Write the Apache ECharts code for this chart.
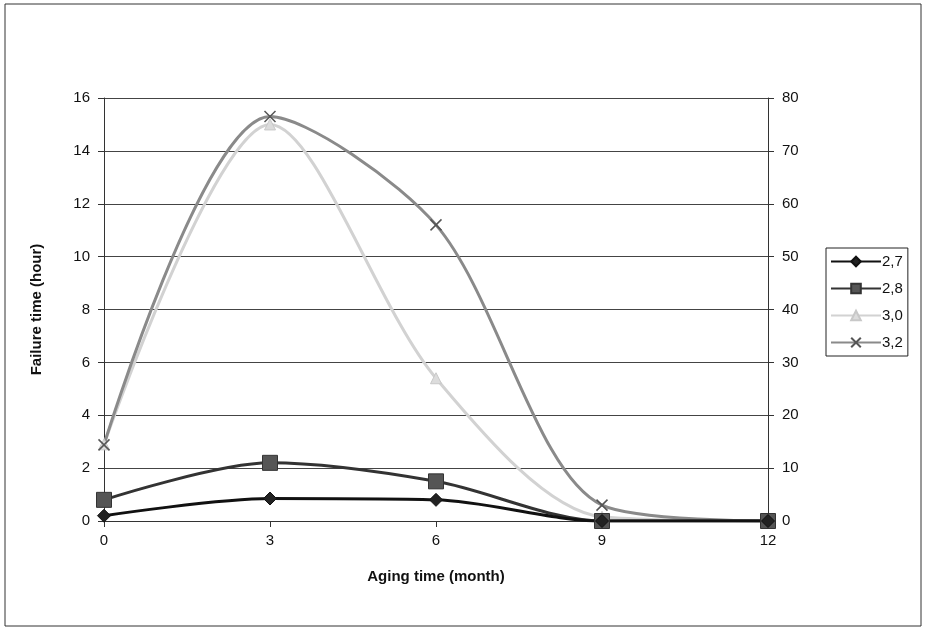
<!DOCTYPE html>
<html><head><meta charset="utf-8">
<script src="https://cdn.jsdelivr.net/npm/echarts@6/dist/echarts.min.js"></script>
<style>html,body{margin:0;padding:0;background:#fff}#c{width:925px;height:629px}</style>
</head><body><div id="c"></div>
<script>
const months = [0, 3, 6, 9, 12];
const s27 = [0.2, 0.85, 0.8, 0, 0];        // left axis (hour)
const s28 = [0.8, 2.2, 1.5, 0, 0];         // left axis (hour)
const s30 = [14.5, 75, 27, 0.8, 0];        // right axis
const s32 = [14.4, 76.5, 56, 3, 0];        // right axis
const leftTicks = [0, 16, 2];
const rightTicks = [0, 80, 10];

const pair = (xs, ys) => xs.map((x, i) => [x, ys[i]]);
const font = 'Liberation Sans, Arial, sans-serif';
const X = 'path://M0,0 L10,10 M10,0 L0,10';

const chart = echarts.init(document.getElementById('c'));
chart.setOption({
  animation: false,
  backgroundColor: '#fff',
  grid: { left: 104, right: 157, top: 98, bottom: 108 },
  graphic: [{ type: 'rect', shape: { x: 5, y: 4, width: 916, height: 622 },
    style: { fill: 'none', stroke: '#333', lineWidth: 1 }, silent: true }],
  legend: {
    orient: 'vertical', left: 826, top: 248,
    itemWidth: 50, itemHeight: 12, itemGap: 12,
    padding: [6, 5, 6, 4],
    borderColor: '#222', borderWidth: 1,
    textStyle: { fontFamily: font, fontSize: 15, color: '#111', padding: [0, 0, 0, -4] },
    data: ['2,7', '2,8', '3,0', '3,2']
  },
  xAxis: {
    type: 'value', min: 0, max: 12, interval: 3,
    name: 'Aging time (month)', nameLocation: 'middle', nameGap: 48,
    nameTextStyle: { fontFamily: font, fontSize: 15, fontWeight: 'bold', color: '#111' },
    axisLine: { lineStyle: { color: '#333', width: 1 } },
    axisTick: { show: true, length: 6, lineStyle: { color: '#333' } },
    axisLabel: { fontFamily: font, fontSize: 15, color: '#111', margin: 12 },
    splitLine: { show: false }
  },
  yAxis: [{
    type: 'value', min: leftTicks[0], max: leftTicks[1], interval: leftTicks[2],
    name: 'Failure time (hour)', nameLocation: 'middle', nameGap: 60, nameRotate: 90,
    nameTextStyle: { fontFamily: font, fontSize: 15, fontWeight: 'bold', color: '#111' },
    axisLine: { show: true, lineStyle: { color: '#333' } },
    axisTick: { show: true, length: 6, lineStyle: { color: '#333' } },
    axisLabel: { fontFamily: font, fontSize: 15, color: '#111', margin: 14 },
    splitLine: { show: true, lineStyle: { color: '#444', width: 1 } }
  }, {
    type: 'value', min: rightTicks[0], max: rightTicks[1], interval: rightTicks[2],
    position: 'right',
    axisLine: { show: true, lineStyle: { color: '#333' } },
    axisTick: { show: true, length: 6, lineStyle: { color: '#333' } },
    axisLabel: { fontFamily: font, fontSize: 15, color: '#111', margin: 14 },
    splitLine: { show: false }
  }],
  series: [
    { name: '3,0', type: 'line', yAxisIndex: 1, smooth: 0.3, data: pair(months, s30),
      symbol: 'triangle', symbolSize: 11,
      lineStyle: { color: '#d2d2d2', width: 3 },
      itemStyle: { color: '#dcdcdc', borderColor: '#c8c8c8', borderWidth: 1 } },
    { name: '3,2', type: 'line', yAxisIndex: 1, smooth: 0.3, data: pair(months, s32),
      symbol: X, symbolSize: 11,
      lineStyle: { color: '#8a8a8a', width: 3 },
      itemStyle: { color: 'transparent', borderColor: '#555', borderWidth: 1.5 } },
    { name: '2,8', type: 'line', yAxisIndex: 0, smooth: 0.3, data: pair(months, s28),
      symbol: 'rect', symbolSize: 15,
      lineStyle: { color: '#333', width: 3 },
      itemStyle: { color: '#555', borderColor: '#333', borderWidth: 1 } },
    { name: '2,7', type: 'line', yAxisIndex: 0, smooth: 0.3, data: pair(months, s27),
      symbol: 'diamond', symbolSize: 13,
      lineStyle: { color: '#111', width: 3 },
      itemStyle: { color: '#222', borderColor: '#111', borderWidth: 1 } }
  ]
});
</script></body></html>
